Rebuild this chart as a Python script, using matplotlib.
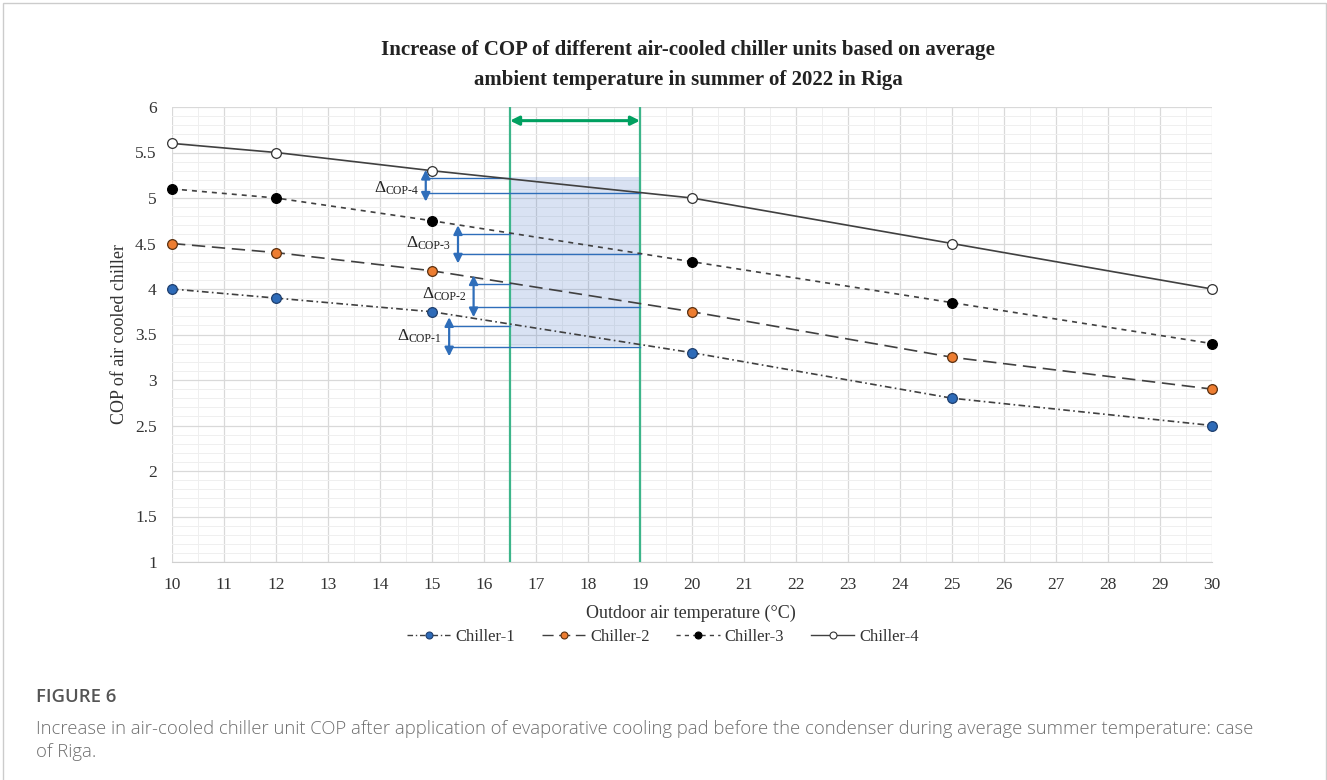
import matplotlib
matplotlib.use("Agg")
import matplotlib.pyplot as plt
from matplotlib.lines import Line2D
from matplotlib.patches import Rectangle
from matplotlib.ticker import MultipleLocator, FormatStrFormatter

# data
temps = [10, 12, 15, 20, 25, 30]
chiller_1 = [4.0, 3.9, 3.75, 3.3, 2.8, 2.5]
chiller_2 = [4.5, 4.4, 4.2, 3.75, 3.25, 2.9]
chiller_3 = [5.1, 5.0, 4.75, 4.3, 3.85, 3.4]
chiller_4 = [5.6, 5.5, 5.3, 5.0, 4.5, 4.0]
series_names = ["Chiller-1", "Chiller-2", "Chiller-3", "Chiller-4"]

# summer temperature window and COP gains
window = [16.5, 19]
band_low, band_high = 3.37, 5.23
delta_labels = ["COP-1", "COP-2", "COP-3", "COP-4"]
delta_x = [15.33, 15.8, 15.5, 14.88]
delta_top = [3.69, 4.15, 4.70, 5.31]
delta_bottom = [3.26, 3.69, 4.28, 4.96]
cop_at_low = [3.59, 4.06, 4.60, 5.22]   # value at 16.5 C
cop_at_high = [3.36, 3.80, 4.38, 5.05]  # value at 19 C
label_x = [15.17, 15.65, 15.35, 14.73]
label_y = [3.49, 3.95, 4.51, 5.12]

W, H = 1327, 780
fig = plt.figure(figsize=(W / 100, H / 100), dpi=100)
serif = "Liberation Serif"

def fx(px):
    return px / W

def fy(py):
    return 1 - py / H

ax = fig.add_axes([fx(172), fy(562), fx(1212) - fx(172), fy(107) - fy(562)])

line_col = "#404040"
styles = [
    dict(ls=(0, (4, 2, 1, 2)), mfc="#2E6BB8", mec="#1F3F6E"),
    dict(ls=(0, (8, 4)), mfc="#ED7D31", mec="#5A3010"),
    dict(ls=(0, (3, 3)), mfc="#000000", mec="#000000"),
    dict(ls="-", mfc="white", mec="#333333"),
]
series = [chiller_1, chiller_2, chiller_3, chiller_4]
handles = []
for name, vals, st in zip(series_names, series, styles):
    ax.plot(temps, vals, color=line_col, lw=1.2, ls=st["ls"], marker="o",
            ms=7, mfc=st["mfc"], mec=st["mec"], mew=0.9, zorder=5, clip_on=False)
    handles.append(Line2D([], [], color=line_col, lw=1.0, ls=st["ls"], marker="o",
                          ms=5, mfc=st["mfc"], mec=st["mec"], mew=0.8, label=name))

ax.set_xlim(10, 30)
ax.set_ylim(1, 6)
ax.xaxis.set_major_locator(MultipleLocator(1))
ax.xaxis.set_minor_locator(MultipleLocator(0.5))
ax.yaxis.set_major_locator(MultipleLocator(0.5))
ax.yaxis.set_minor_locator(MultipleLocator(0.1))
ax.yaxis.set_major_formatter(FormatStrFormatter("%g"))
ax.grid(which="major", color="#D9D9D9", lw=0.9)
ax.grid(which="minor", color="#EFEFEF", lw=0.7)
ax.set_axisbelow(True)
for s in ax.spines.values():
    s.set_visible(False)
ax.spines["bottom"].set_visible(True)
ax.spines["bottom"].set_color("#D0D0D0")
ax.tick_params(which="both", length=0)
ax.tick_params(axis="x", pad=11)
ax.tick_params(axis="y", pad=11)
for lab in ax.get_xticklabels() + ax.get_yticklabels():
    lab.set_fontfamily(serif)
    lab.set_fontsize(12.5)
    lab.set_color("#333333")

# shaded band + green window
ax.add_patch(Rectangle((window[0], band_low), window[1] - window[0], band_high - band_low,
                       facecolor="#4472C4", alpha=0.2, edgecolor="none", zorder=1))
for xv in window:
    ax.axvline(xv, color="#3DB58A", lw=1.6, zorder=3)
ax.annotate("", xy=(window[0], 5.85), xytext=(window[1], 5.85),
            arrowprops=dict(arrowstyle="<|-|>", color="#00A060", lw=2.2,
                            mutation_scale=13, shrinkA=0, shrinkB=0), zorder=6)

blue = "#2F6EBA"
for i in range(4):
    ax.plot([delta_x[i], window[0]], [cop_at_low[i]] * 2, color=blue, lw=1.0, zorder=4)
    ax.plot([delta_x[i], window[1]], [cop_at_high[i]] * 2, color=blue, lw=1.0, zorder=4)
    ax.annotate("", xy=(delta_x[i], delta_top[i]), xytext=(delta_x[i], delta_bottom[i]),
                arrowprops=dict(arrowstyle="<|-|>", color=blue, lw=1.6,
                                mutation_scale=13, shrinkA=0, shrinkB=0), zorder=6)
    sub = ax.text(label_x[i], label_y[i] - 0.04, delta_labels[i], fontsize=8.5,
                  family=serif, ha="right", va="center", color="#222222")
    ax.annotate("\u0394", xy=(0, 0.75), xycoords=sub, ha="right", va="center",
                fontsize=12.5, family=serif, color="#222222")

# titles and axis labels
fig.text(fx(688), fy(50), "Increase of COP of different air-cooled chiller units based on average",
         ha="center", va="center", fontsize=15, fontweight="bold", family=serif, color="#222222")
fig.text(fx(688), fy(80), "ambient temperature in summer of 2022 in Riga",
         ha="center", va="center", fontsize=15, fontweight="bold", family=serif, color="#222222")
fig.text(fx(120), fy(334), "COP of air cooled chiller", rotation=90, ha="center", va="center",
         fontsize=13, family=serif, color="#333333")
fig.text(fx(691), fy(613), "Outdoor air temperature (\u00b0C)", ha="center", va="center",
         fontsize=13, family=serif, color="#333333")

fig.legend(handles=handles, loc="center", bbox_to_anchor=(fx(663), fy(637)), ncol=4,
           frameon=False, prop={"family": serif, "size": 12}, handlelength=2.6,
           handletextpad=0.3, columnspacing=1.6, labelcolor="#333333")

# caption
fig.text(fx(36), fy(697), "FIGURE 6", ha="left", va="center", fontsize=13.3,
         family="Open Sans", fontweight="semibold", color="#555555")
fig.text(fx(36), fy(729), "Increase in air-cooled chiller unit COP after application of evaporative "
         "cooling pad before the condenser during average summer temperature: case",
         ha="left", va="center", fontsize=13.3, family="Open Sans", fontweight="light",
         color="#6E6E6E")
fig.text(fx(36), fy(752), "of Riga.", ha="left", va="center", fontsize=13.3,
         family="Open Sans", fontweight="light", color="#6E6E6E")

# outer frame
fig.patches.append(Rectangle((fx(3), -0.01), fx(1326) - fx(3), fy(3) + 0.01,
                             transform=fig.transFigure, fill=False,
                             edgecolor="#CCCCCC", lw=1.0))

fig.savefig("out.png", dpi=100)
